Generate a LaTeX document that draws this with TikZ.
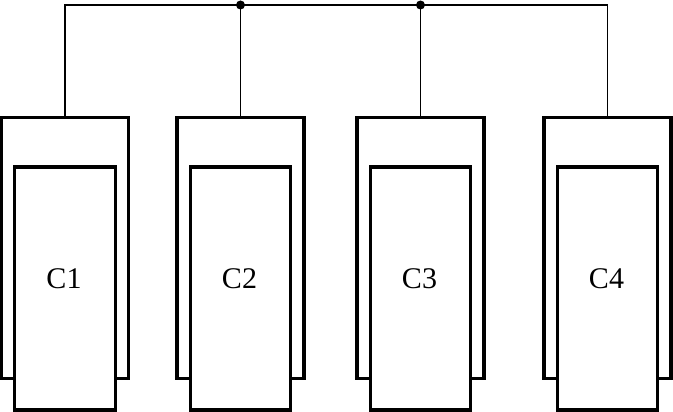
\documentclass[tikz,border=0pt]{standalone}
\usepackage{fontspec}
\setmainfont{Liberation Serif}
\begin{document}
\begin{tikzpicture}[x=1pt,y=-1pt,
  outerbox/.style={draw,line width=3.2pt,minimum width=127pt,minimum height=261pt,inner sep=0pt},
  innerbox/.style={draw,fill=white,line width=3.2pt,minimum width=100.5pt,minimum height=243pt,inner sep=0pt},
  wire/.style={line width=1.3pt}]
\useasboundingbox (0,0) rectangle (673,412);
\foreach \x/\n in {65/1,240.5/2,420.5/3,607.5/4} {
  \node[outerbox] (out\n) at (\x,248) {};
  \node[innerbox] (in\n) at (\x,288.5) {};
  \node[font=\fontsize{30}{32}\selectfont] (lab\n) at (\x-1,279) {C\n};
}
\coordinate (bl) at (65,5);
\coordinate (br) at (607.5,5);
\draw[wire] (out1.north) |- (br) -- (out4.north);
\draw[wire] (out2.north) -- (out2.north |- bl);
\draw[wire] (out3.north) -- (out3.north |- bl);
\fill (out2.north |- bl) circle (4.5pt);
\fill (out3.north |- bl) circle (4.5pt);
\end{tikzpicture}
\end{document}
